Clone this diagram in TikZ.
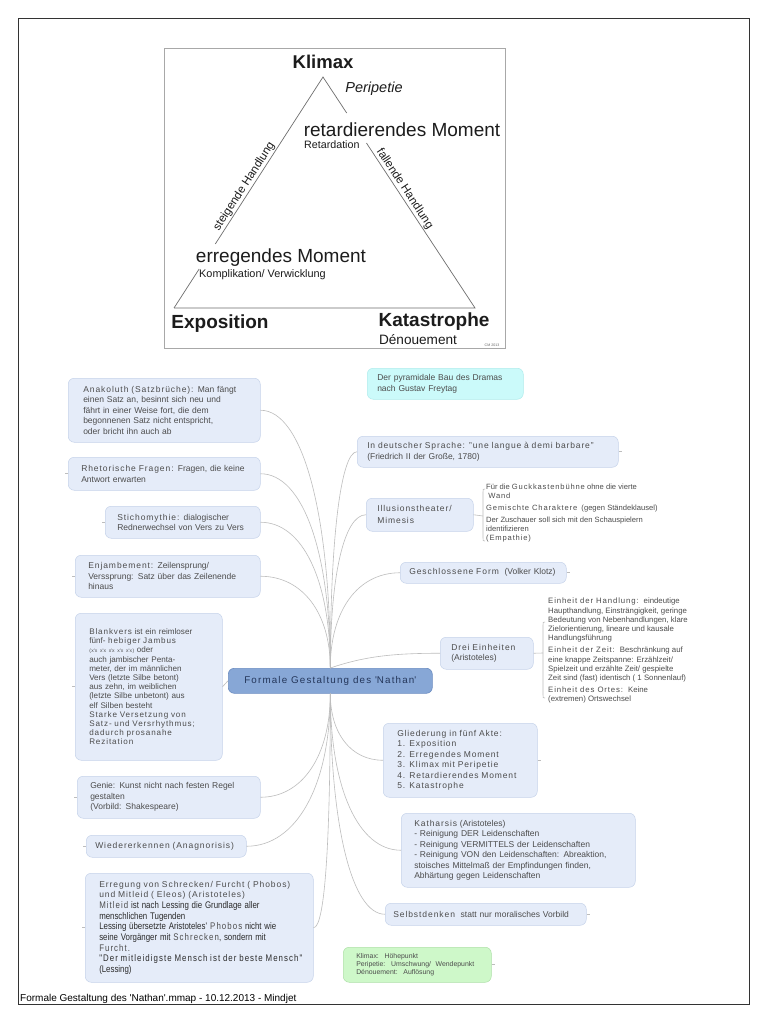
\documentclass[tikz,border=0pt]{standalone}
\usepackage{fontspec}
\setmainfont{Liberation Sans}
\newfontfamily\narrowfont[FakeStretch=0.82]{Liberation Sans}
\newcommand\lsp[1]{{\addfontfeatures{LetterSpace=11}#1}}
\usetikzlibrary{calc}
\definecolor{boxfill}{HTML}{E5ECF9}
\definecolor{boxline}{HTML}{C6D3EA}
\definecolor{txt}{HTML}{4C4C4C}
\definecolor{darktxt}{HTML}{2A2A2A}
\definecolor{centerfill}{HTML}{87A7D6}
\definecolor{centerline}{HTML}{6C8DC1}
\definecolor{centertxt}{HTML}{24365A}
\definecolor{cyanfill}{HTML}{CBFAFA}
\definecolor{cyanline}{HTML}{B0ECEC}
\definecolor{greenfill}{HTML}{CEF8C9}
\definecolor{greenline}{HTML}{AEE0A8}
\definecolor{conn}{HTML}{BDBDBD}
\definecolor{triline}{HTML}{6E6E6E}
\definecolor{imgline}{HTML}{A8A8A8}
\definecolor{tritxt}{HTML}{1C1C1C}
\begin{document}
\begin{tikzpicture}[x=1pt,y=-1pt,
  topic/.style={draw=boxline, fill=boxfill, rounded corners=6pt, line width=0.5pt,
    anchor=north west, align=left, text=txt, inner ysep=0pt,
    font=\fontsize{8.5}{10.5}\selectfont},
  subtext/.style={anchor=north west, align=left, text=txt, inner sep=0pt,
    font=\fontsize{7.6}{9.2}\selectfont},
  connline/.style={draw=conn, line width=0.6pt},
  stub/.style={draw=conn, line width=0.6pt},
  tri/.style={draw=triline, line width=0.7pt},
  trilabel/.style={text=tritxt, inner sep=0pt},
]
\useasboundingbox[fill=white] (0,0) rectangle (768,1024);
% outer frame
\draw[draw=black!80, line width=1pt] (18,19) rectangle (749,1004);
\node[anchor=base west, inner sep=0pt, font=\fontsize{10}{12}\selectfont, text=black] (footer) at (20,1001)
  {Formale Gestaltung des \textquotesingle Nathan\textquotesingle.mmap - 10.12.2013 - Mindjet};

% ---------- pyramid picture ----------
\node[draw=imgline, fill=white, line width=0.7pt, anchor=north west, inner sep=0pt,
  minimum width=341pt, minimum height=300pt] (img) at (164,48) {};
\coordinate (apex) at (323,77);
\coordinate (bl) at (174,308);
\coordinate (br) at (475,308);
\draw[tri] (bl) -- ($(bl)!0.169!(apex)$);
\draw[tri] ($(bl)!0.277!(apex)$) -- (apex) -- ($(apex)!0.156!(br)$);
\draw[tri] ($(apex)!0.286!(br)$) -- (br) -- (bl);
\path (bl) -- (apex) node[pos=0.51, sloped, above=1.2pt, trilabel, font=\fontsize{11.6}{13}\selectfont] (steig) {steigende Handlung};
\path (apex) -- (br) node[pos=0.50, sloped, above=1.2pt, trilabel, font=\fontsize{11.6}{13}\selectfont] (fall) {fallende Handlung};
\node[trilabel, font=\fontsize{18.5}{20}\selectfont\bfseries] (klimax) at (323,62) {Klimax};
\node[trilabel, font=\fontsize{14.5}{16}\selectfont\itshape] (peri) at (374,89) {Peripetie};
\node[trilabel, font=\fontsize{19}{21}\selectfont] (retm) at (402,130) {retardierendes Moment};
\node[trilabel, anchor=west, font=\fontsize{10.7}{12}\selectfont] (retard) at (304,145) {Retardation};
\node[trilabel, font=\fontsize{19}{21}\selectfont] (erm) at (281,258) {erregendes Moment};
\node[trilabel, anchor=west, font=\fontsize{10.9}{12}\selectfont] (kompl) at (199,275) {Komplikation/ Verwicklung};
\node[trilabel, font=\fontsize{19}{21}\selectfont\bfseries] (expo) at (220,324) {Exposition};
\node[trilabel, font=\fontsize{19}{21}\selectfont\bfseries] (kata) at (434,322) {Katastrophe};
\node[trilabel, font=\fontsize{13.6}{15}\selectfont] (denou) at (418,340) {Dénouement};
\node[trilabel, text=black!60, font=\fontsize{3.6}{4}\selectfont] (cm) at (492,345) {CM 2013};

% ---------- mind map ----------
\node[draw=centerline, fill=centerfill, rounded corners=6pt, line width=0.6pt, anchor=north west,
  minimum width=204pt, minimum height=25pt, inner sep=0pt, text=centertxt,
  font=\fontsize{9.8}{11}\selectfont] (C) at (228,668)
  {\addfontfeatures{LetterSpace=12}Formale Gestaltung des \textquotesingle Nathan\textquotesingle};

% left side
\node[topic, inner xsep=15pt, text width=162pt, minimum height=64pt] (L1) at (68,378)
  {\lsp{Anakoluth (Satzbrüche):} Man fängt\\
   einen Satz an, besinnt sich neu und\\
   fährt in einer Weise fort, die dem\\
   begonnenen Satz nicht entspricht,\\
   oder bricht ihn auch ab};
\node[topic, inner xsep=13pt, text width=166pt, minimum height=33pt] (L2) at (68,457)
  {\lsp{Rhetorische Fragen:} Fragen, die keine\\ Antwort erwarten};
\node[topic, inner xsep=12pt, text width=131pt, minimum height=32pt] (L3) at (105,506)
  {\lsp{Stichomythie:} dialogischer\\ Rednerwechsel von Vers zu Vers};
\node[topic, inner xsep=13pt, text width=159pt, minimum height=42pt] (L4) at (75,555)
  {\lsp{Enjambement:} Zeilensprung/\\ Verssprung: Satz über das Zeilenende\\ hinaus};
\node[topic, inner xsep=14pt, text width=119pt, minimum height=147pt,
  font=\fontsize{8.1}{9.2}\selectfont] (L5) at (75,613)
  {\lsp{Blankvers} ist ein reimloser\\
   fünf- \lsp{hebiger Jambus}\\
   {\fontsize{5}{6}\selectfont\lsp{(x\textquotesingle x x\textquotesingle x x\textquotesingle x x\textquotesingle x x\textquotesingle x)}} oder\\
   auch jambischer Penta-\\
   meter, der im männlichen\\
   Vers (letzte Silbe betont)\\
   aus zehn, im weiblichen\\
   (letzte Silbe unbetont) aus\\
   elf Silben besteht\\
   \lsp{Starke Versetzung von}\\
   \lsp{Satz- und Versrhythmus;}\\
   \lsp{dadurch prosanahe}\\
   \lsp{Rezitation}};
\node[topic, inner xsep=13pt, text width=157pt, minimum height=42pt] (L6) at (77,776)
  {Genie: Kunst nicht nach festen Regel\\ gestalten\\ (Vorbild: Shakespeare)};
\node[topic, inner xsep=9pt, text width=142pt, minimum height=22pt] (L7) at (86,835)
  {\lsp{Wiedererkennen (Anagnorisis)}};
\node[topic, inner xsep=14pt, text width=200pt, minimum height=109pt] (L8) at (85,873)
  {\lsp{Erregung von Schrecken/ Furcht ( Phobos)}\\
   \lsp{und Mitleid ( Eleos) (Aristoteles)}\\
   \color{darktxt}\narrowfont\fontsize{9.6}{10.7}\selectfont
   \lsp{\color{txt}Mitleid} ist nach Lessing die Grundlage aller\\
   menschlichen Tugenden\\
   Lessing übersetzte Aristoteles\textquotesingle\ \lsp{\color{txt}Phobos} nicht wie\\
   seine Vorgänger mit \lsp{\color{txt}Schrecken}, sondern mit\\
   \lsp{\color{txt}Furcht.}\\
   \lsp{"Der mitleidigste Mensch ist der beste Mensch"}\\
   (Lessing)};

% right side
\node[topic, draw=cyanline, fill=cyanfill, inner xsep=10pt, text width=136pt, minimum height=31pt] (R0) at (367,368)
  {Der pyramidale Bau des Dramas\\ nach Gustav Freytag};
\node[topic, inner xsep=10pt, text width=241pt, minimum height=31pt] (R1) at (357,436)
  {{\addfontfeatures{LetterSpace=10}In deutscher Sprache: "une langue à demi barbare"}\\ (Friedrich II der Große, 1780)};
\node[topic, inner xsep=11pt, text width=85pt, minimum height=33pt,
  font=\fontsize{8.5}{12}\selectfont] (R2) at (366,498)
  {\lsp{Illusionstheater/}\\ \lsp{Mimesis}};
\node[topic, inner xsep=9pt, text width=148pt, minimum height=21pt] (R3) at (400,562)
  {\lsp{Geschlossene Form} \ (Volker Klotz)};
\node[topic, inner xsep=11pt, text width=71pt, minimum height=32pt] (R4) at (440,637)
  {\lsp{Drei Einheiten}\\ (Aristoteles)};
\node[topic, inner xsep=14pt, text width=126pt, minimum height=74pt] (R5) at (383,723)
  {{\addfontfeatures{LetterSpace=10}Gliederung in fünf Akte:\\
   1. Exposition\\
   2. Erregendes Moment\\
   3. Klimax mit Peripetie\\
   4. Retardierendes Moment\\
   5. Katastrophe}};
\node[topic, inner xsep=13pt, text width=208pt, minimum height=74pt] (R6) at (401,813)
  {\lsp{Katharsis} (Aristoteles)\\
   - Reinigung DER Leidenschaften\\
   - Reinigung VERMITTELS der Leidenschaften\\
   - Reinigung VON den Leidenschaften: Abreaktion,\\
   stoisches Mittelmaß der Empfindungen finden,\\
   Abhärtung gegen Leidenschaften};
\node[topic, inner xsep=8pt, text width=185pt, minimum height=22pt] (R7) at (385,903)
  {\lsp{Selbstdenken} \ statt nur moralisches Vorbild};
\node[topic, draw=greenline, fill=greenfill, inner xsep=13pt, text width=122pt, minimum height=35pt,
  font=\fontsize{6.9}{8}\selectfont] (R8) at (343,947)
  {Klimax: \ Höhepunkt\\ Peripetie: \ Umschwung/ \ Wendepunkt\\ Dénouement: \ Auflösung};

% sub items
\node[subtext] (S2) at (486,484)
  {Für die \lsp{Guckkastenbühne} ohne die vierte\\
   \ \lsp{Wand}\\[2.5pt]
   \lsp{Gemischte Charaktere} \ (gegen Ständeklausel)\\[2.5pt]
   Der Zuschauer soll sich mit den Schauspielern\\
   identifizieren\\
   \lsp{(Empathie)}};
\node[subtext, font=\fontsize{7.8}{9.2}\selectfont] (S4) at (548,598)
  {\lsp{Einheit der Handlung:} \ eindeutige\\
   Haupthandlung, Einsträngigkeit, geringe\\
   Bedeutung von Nebenhandlungen, klare\\
   Zielorientierung, lineare und kausale\\
   Handlungsführung\\[3pt]
   \lsp{Einheit der Zeit:} \ Beschränkung auf\\
   eine knappe Zeitspanne: Erzählzeit/\\
   Spielzeit und erzählte Zeit/ gespielte\\
   Zeit sind (fast) identisch ( 1 Sonnenlauf)\\[3pt]
   \lsp{Einheit des Ortes:} \ Keine\\
   (extremen) Ortswechsel};

% connectors upper
\draw[connline] (C.north) .. controls +(0,-155) and +(42,0) .. (L1.east);
\draw[connline] (C.north) .. controls +(0,-117) and +(42,0) .. (L2.east);
\draw[connline] (C.north) .. controls +(0,-88) and +(42,0) .. (L3.east);
\draw[connline] (C.north) .. controls +(0,-55) and +(42,0) .. (L4.east);
\draw[connline] (C.north) .. controls +(0,-130) and +(-16,0) .. (R1.west);
\draw[connline] (C.north) .. controls +(0,-92) and +(-22,0) .. (R2.west);
\draw[connline] (C.north) .. controls +(0,-58) and +(-42,0) .. (R3.west);
\draw[connline] (C.north) .. controls +(35,-12) and +(-45,0) .. (R4.west);
% connectors lower
\draw[connline] (L5.east) -- (C.west);
\draw[connline] (C.south) .. controls +(0,62) and +(42,0) .. (L6.east);
\draw[connline] (C.south) .. controls +(0,92) and +(50,0) .. (L7.east);
\draw[connline] (C.south) .. controls +(0,140) and +(12,0) .. (L8.east);
\draw[connline] (C.south) .. controls +(0,40) and +(-32,0) .. (R5.west);
\draw[connline] (C.south) .. controls +(0,94) and +(-43,0) .. (R6.west);
\draw[connline] (C.south) .. controls +(0,133) and +(-33,0) .. (R7.west);
% brackets to sub items
\coordinate (b2) at (483,516);
\draw[connline] (R2.east) to[out=0,in=180] (b2);
\draw[connline] (485,489) .. controls (483,489) .. (483,492) -- (483,538) .. controls (483,541) .. (485,541);
\coordinate (b4) at (543,653);
\draw[connline] (R4.east) to[out=0,in=180] (b4);
\draw[connline] (545,622) .. controls (543,622) .. (543,625) -- (543,695) .. controls (543,698) .. (545,698);
% stubs
\foreach \n in {L2,L3,L4,L5,L6,L7,L8} \draw[stub] (\n.west) -- ++(-3,0);
\foreach \n in {R1,R3,R5,R7,R8} \draw[stub] (\n.east) -- ++(3,0);
\end{tikzpicture}
\end{document}
